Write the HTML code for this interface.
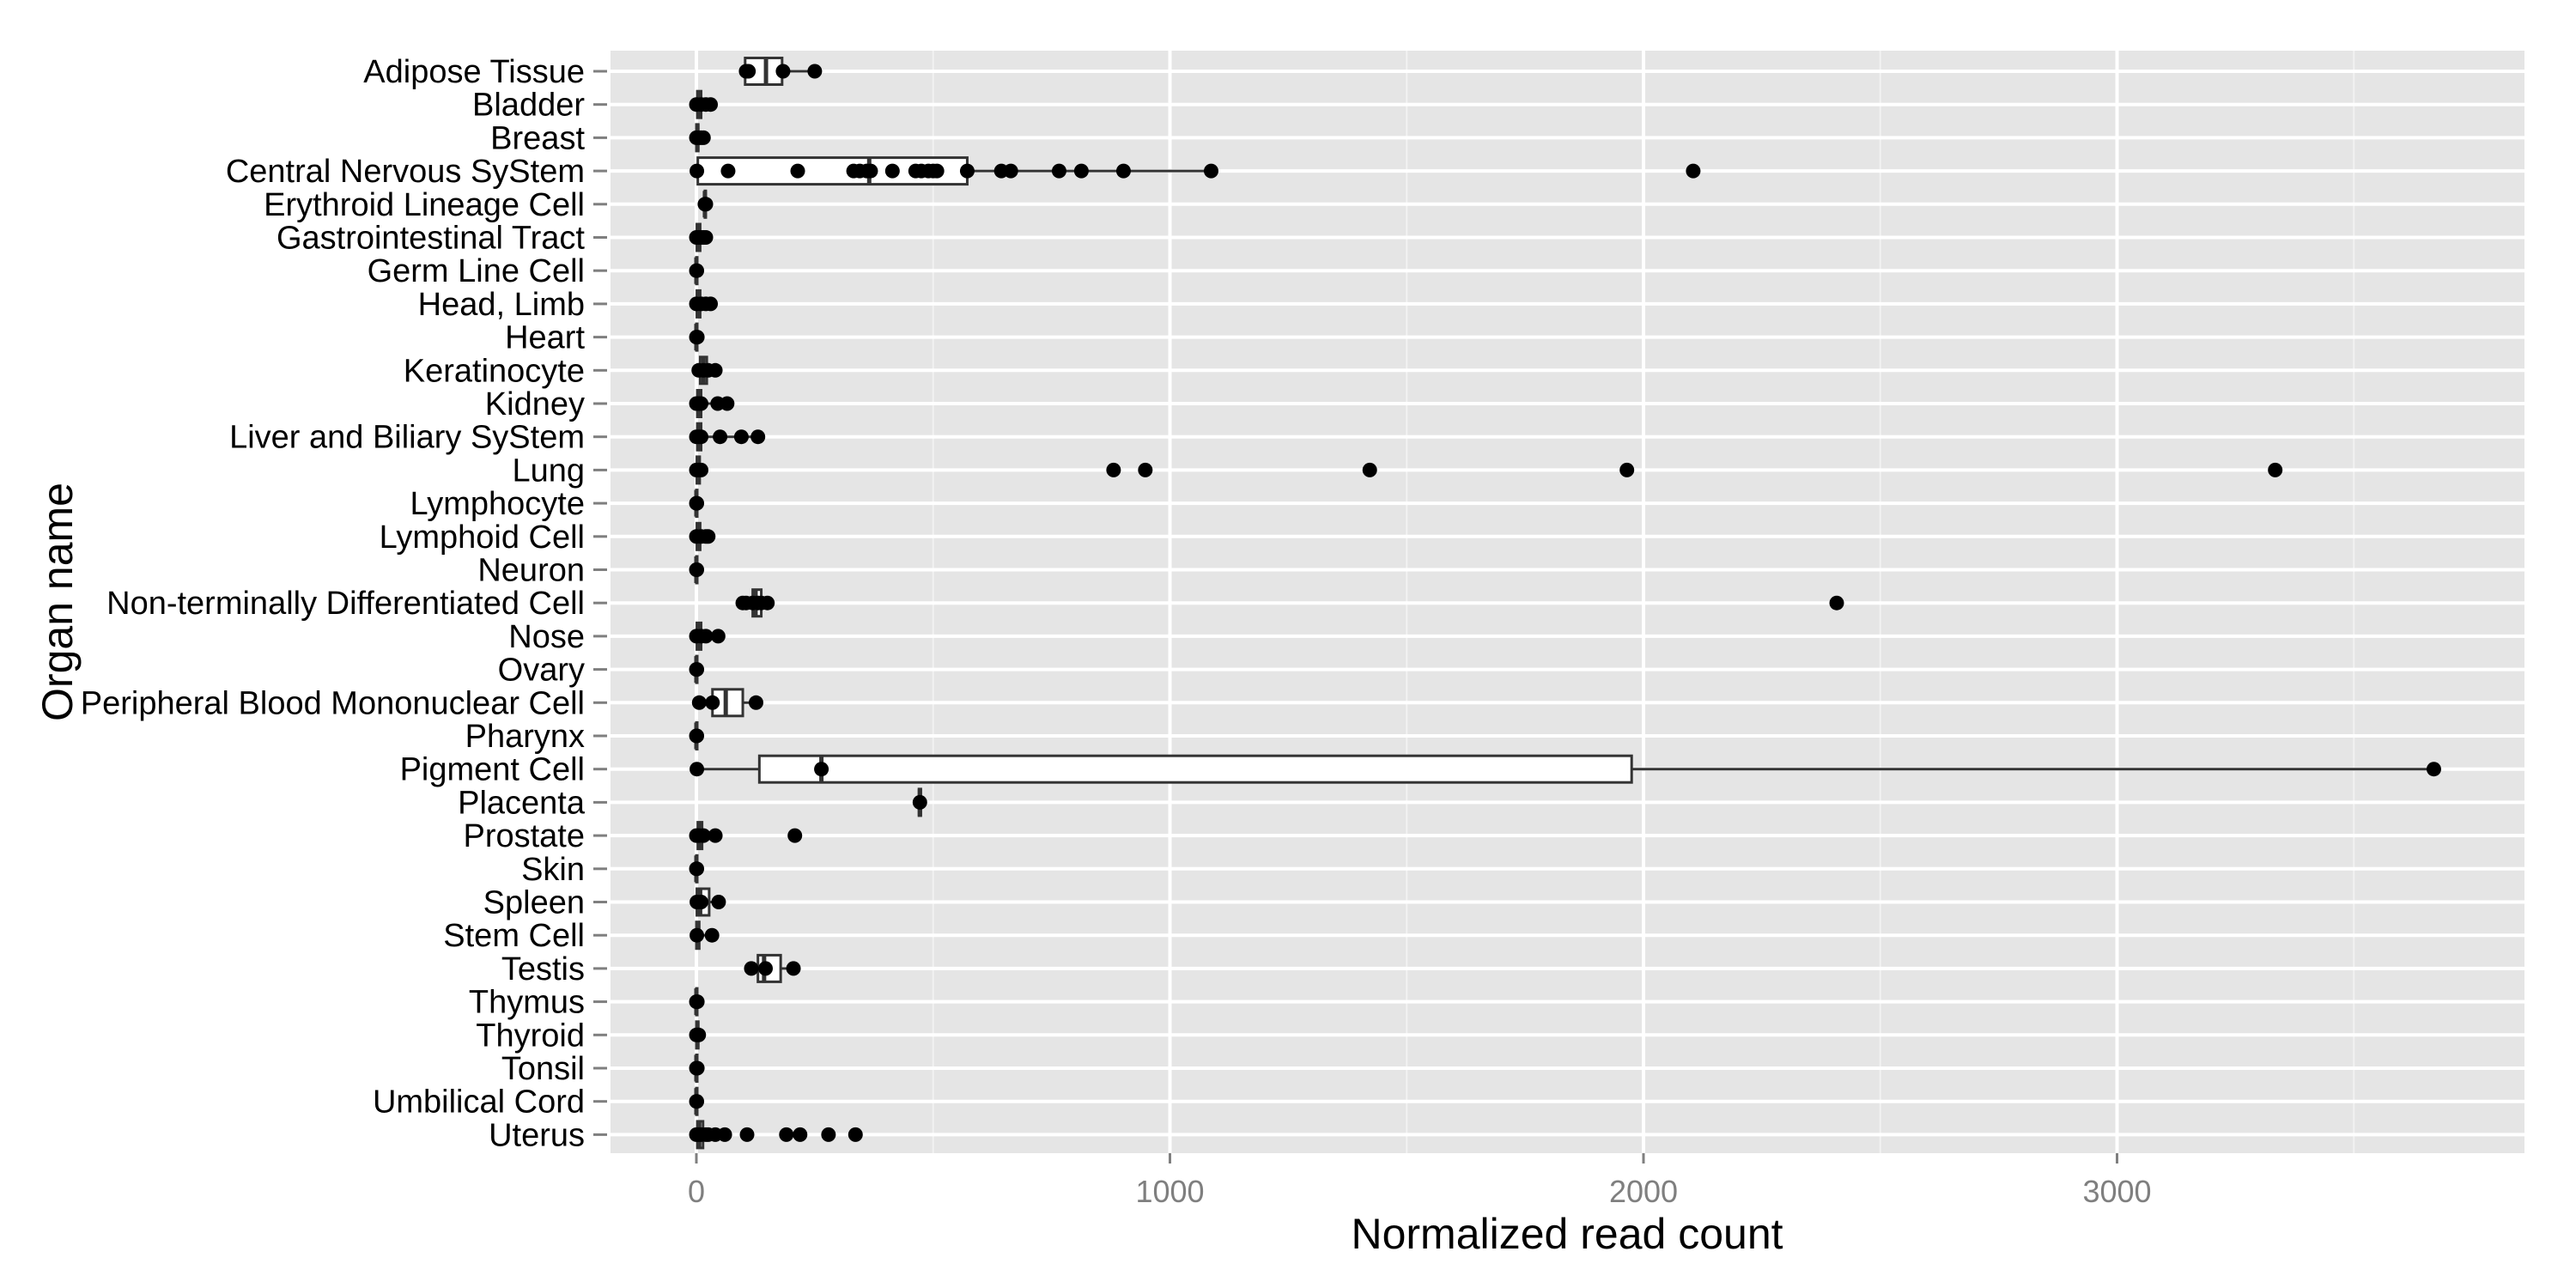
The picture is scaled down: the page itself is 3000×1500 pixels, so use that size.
<!DOCTYPE html>
<html><head><meta charset="utf-8"><style>
html,body{margin:0;padding:0;background:#fff;}
svg{display:block;font-family:"Liberation Sans",Arial,sans-serif;}
</style></head><body>
<svg id="chart" width="3000" height="1500" viewBox="0 0 3000 1500" xmlns="http://www.w3.org/2000/svg">
<rect x="0" y="0" width="3000" height="1500" fill="#fff"/>
<rect x="711" y="59" width="2229" height="1284" fill="#E5E5E5"/>
<g id="grid"></g><g id="marks"></g><g id="axes"></g>
<text x="1825" y="1454" font-size="50" text-anchor="middle" fill="#000">Normalized read count</text>
<text x="0" y="0" font-size="50" text-anchor="middle" fill="#000" transform="translate(84,701) rotate(-90)">Organ name</text>
</svg>
<script>
const categories = ["Adipose Tissue","Bladder","Breast","Central Nervous SyStem","Erythroid Lineage Cell","Gastrointestinal Tract","Germ Line Cell","Head, Limb","Heart","Keratinocyte","Kidney","Liver and Biliary SyStem","Lung","Lymphocyte","Lymphoid Cell","Neuron","Non-terminally Differentiated Cell","Nose","Ovary","Peripheral Blood Mononuclear Cell","Pharynx","Pigment Cell","Placenta","Prostate","Skin","Spleen","Stem Cell","Testis","Thymus","Thyroid","Tonsil","Umbilical Cord","Uterus"];
const whiskerLo = [105,0,0,1,18,0,0,0,0,5,0,0,0,0,0,0,98,0,0,6,0,0,472,0,0,0,0,116,0,0,0,0,0];
const q1s      = [103,2,0,3,18,1,0,1,0,8,2,2,1,0,1,0,119,1,0,34,0,133,470,3,0,1,0,130,0,0,0,0,2];
const medians  = [147,5,2,365,18,4,0,4,0,15,5,5,4,0,4,0,125,5,0,62,0,264,472,7,0,8,2,143,0,2,0,0,6];
const q3s      = [181,10,4,572,19,8,1,8,1,22,10,10,7,1,8,1,137,10,1,98,1,1975,474,12,1,27,6,178,1,4,1,1,14];
const whiskerHi= [250,30,15,1087,20,20,2,30,3,40,65,130,10,2,25,2,150,46,2,126,2,3669,475,40,2,47,33,205,2,6,2,2,60];
const points = [
 [105,110,183,250],[0,10,20,30],[0,5,10,15],
 [1,67,214,332,345,360,368,414,463,475,490,500,508,572,644,664,766,813,902,1087,2105],
 [18,20],[0,5,10,15,20],[0,1],[0,10,20,30],[0,2],
 [5,15,25,40],[0,5,10,45,65],[0,5,10,50,95,130],[0,5,10,881,948,1422,1965,3334],
 [0,1],[0,10,20,25],[0,1],[98,105,119,130,137,150,2408],[0,10,20,46],[0,1],
 [6,34,126],[0,1],[1,264,3669],[472],[0,5,15,40,208],[0,1],[1,10,47],[1,33],
 [116,146,205],[0,2],[0,5],[0,2],[0,1],[0,5,10,20,25,40,60,107,190,219,279,336]
];
const xTicks = [0,1000,2000,3000];
const xTickLabels = ["0","1000","2000","3000"];
const xMinor = [500,1500,2500,3500];

const NS="http://www.w3.org/2000/svg";
const PL=711, PR=2940, PT=59, PB=1343;
function xs(v){return 811 + v*0.5515;}
function ys(i){return 83 + i*38.7;}
function mk(tag,attrs,parent){const e=document.createElementNS(NS,tag);for(const k in attrs)e.setAttribute(k,attrs[k]);parent.appendChild(e);return e;}
const grid=document.getElementById('grid'), marks=document.getElementById('marks'), axes=document.getElementById('axes');

xMinor.forEach(v=>{
  const l=mk('line',{x1:xs(v),x2:xs(v),y1:PT,y2:PB,stroke:'#F2F2F2','stroke-width':2},grid);
  
  
});
xTicks.forEach((v,i)=>{
  const l=mk('line',{x1:xs(v),x2:xs(v),y1:PT,y2:PB,stroke:'#fff','stroke-width':4},grid);
  
  
  const t=mk('line',{x1:xs(v),x2:xs(v),y1:PB,y2:PB+12,stroke:'#7f7f7f','stroke-width':3},axes);
  
  
  const tx=mk('text',{x:xs(v),y:1400,'font-size':36,'text-anchor':'middle',fill:'#7f7f7f'},axes);
  tx.textContent=xTickLabels[i];
  
  
});
categories.forEach((c,i)=>{
  const y=ys(i);
  const l=mk('line',{x1:PL,x2:PR,y1:y,y2:y,stroke:'#fff','stroke-width':4},grid);
  
  
  const t=mk('line',{x1:691,x2:707,y1:y,y2:y,stroke:'#7f7f7f','stroke-width':3},axes);
  
  
  const tx=mk('text',{x:681,y:y+13,'font-size':38,'text-anchor':'end',fill:'#000'},axes);
  tx.textContent=c;
  
  
});
categories.forEach((c,i)=>{
  const y=ys(i), h=15.5;
  const g=mk('g',{},marks);
  
  
  const w1=mk('line',{x1:xs(whiskerLo[i]),x2:xs(q1s[i]),y1:y,y2:y,stroke:'#333','stroke-width':3},g);
  
  
  const w2=mk('line',{x1:xs(q3s[i]),x2:xs(whiskerHi[i]),y1:y,y2:y,stroke:'#333','stroke-width':3},g);
  
  
  const b=mk('rect',{x:xs(q1s[i]),y:y-h,width:Math.max(xs(q3s[i])-xs(q1s[i]),1),height:2*h,fill:'#fff',stroke:'#333','stroke-width':3},g);
  
  
  const m=mk('line',{x1:xs(medians[i]),x2:xs(medians[i]),y1:y-h,y2:y+h,stroke:'#333','stroke-width':5},g);
  
  
  points[i].forEach(v=>{
    const p=mk('circle',{cx:xs(v),cy:y,r:8.5,fill:'#000'},g);
    
    
  });
});
</script>
</body></html>
